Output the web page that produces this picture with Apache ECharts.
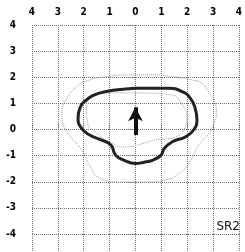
<!DOCTYPE html>
<html>
<head>
<meta charset="utf-8">
<script src="https://cdn.jsdelivr.net/npm/echarts@6/dist/echarts.min.js"></script>
<style>
  html, body { margin: 0; padding: 0; background: #fff; }
  #chart { width: 245px; height: 252px; }
</style>
</head>
<body>
<div id="chart"></div>
<script>
// 刻度
const ticks = [-4, -3, -2, -1, 0, 1, 2, 3, 4]

// 粗实线方向图
const thickCurve = [
  [0, 1.58], [-0.77, 1.51], [-1.40, 1.39], [-1.90, 1.13], [-2.15, 0.81],
  [-2.22, 0.43], [-2.09, 0.05], [-1.77, -0.21], [-1.33, -0.40], [-0.95, -0.59],
  [-0.77, -0.98], [-0.45, -1.17], [0, -1.30], [0.30, -1.26], [0.68, -1.17],
  [0.99, -0.98], [1.12, -0.72], [1.43, -0.47], [1.94, -0.28], [2.25, -0.02],
  [2.38, 0.36], [2.31, 0.81], [2.12, 1.20], [1.81, 1.45], [1.31, 1.58],
  [0.55, 1.58], [0, 1.58]
]

// 内侧虚线
const innerCurve = [
  [0.23, 1.40], [-1.02, 1.40], [-1.66, 1.32], [-1.89, 0.75], [-1.85, 0.25],
  [-1.51, -0.13], [-1.02, -0.48], [-0.38, -0.67], [0.23, -0.55], [0.87, -0.38],
  [1.32, -0.35], [1.70, -0.20], [1.92, 0.10], [2.00, 0.48], [1.81, 0.94],
  [1.43, 1.32], [0.23, 1.40]
]

// 外侧虚线
const outerCurve = [
  [0.11, 2.09], [-0.39, 2.09], [-1.14, 2.02], [-1.77, 1.90], [-2.28, 1.64],
  [-2.72, 1.07], [-2.84, 0.62], [-2.76, 0.10], [-2.50, -0.30], [-2.10, -0.75],
  [-1.80, -1.30], [-1.40, -1.85], [-0.57, -2.01], [0.42, -2.01], [1.17, -1.93],
  [1.70, -1.67], [2.08, -1.28], [2.45, -0.60], [2.82, -0.18], [3.01, 0.17],
  [3.13, 0.62], [3.07, 1.07], [2.82, 1.45], [2.57, 1.77], [2.19, 1.90],
  [1.43, 2.02], [0.68, 2.09], [0.11, 2.09]
]

// 箭头起止
const arrowFrom = [0, -0.21]
const arrowTo = [0, 0.85]

const chart = echarts.init(document.getElementById('chart'))

const gridLine = {
  show: true,
  lineStyle: { color: '#6f6f6f', type: 'dotted', width: 1 }
}
const tickLine = { color: '#6f6f6f', type: 'dotted', width: 1 }
const labelFont = {
  color: '#000',
  fontFamily: 'DejaVu Sans Condensed',
  fontWeight: 'bold',
  fontSize: 10
}

const option = {
  animation: false,
  title: {
    text: 'SR2',
    right: 0,
    bottom: 14,
    textStyle: { fontFamily: 'DejaVu Sans', fontWeight: 'normal', fontSize: 12, color: '#111' }
  },
  grid: { left: 32, right: 1, top: 25, bottom: 18 },
  xAxis: [
    {
      type: 'value',
      position: 'top',
      min: -4,
      max: 4,
      interval: 1,
      axisLine: { show: false },
      axisTick: { show: true, length: 5, lineStyle: tickLine },
      splitLine: gridLine,
      axisLabel: Object.assign({
        margin: 8,
        formatter: function (v) { return String(Math.abs(v)) }
      }, labelFont)
    },
    {
      type: 'value',
      position: 'bottom',
      min: -4,
      max: 4,
      interval: 1,
      axisLine: { show: false },
      axisTick: { show: true, length: 18, lineStyle: tickLine },
      splitLine: { show: false },
      axisLabel: { show: false }
    }
  ],
  yAxis: {
    type: 'value',
    min: -4,
    max: 4,
    interval: 1,
    axisLine: { show: false },
    axisTick: { show: true, length: 9, lineStyle: tickLine },
    splitLine: gridLine,
    axisLabel: Object.assign({
      margin: 16,
      padding: [10, 0, 0, 0]
    }, labelFont)
  },
  series: [
    {
      name: 'outer',
      type: 'line',
      data: outerCurve,
      smooth: true,
      symbol: 'none',
      lineStyle: { color: '#9a9a9a', width: 1, type: 'dotted' }
    },
    {
      name: 'inner',
      type: 'line',
      data: innerCurve,
      smooth: true,
      symbol: 'none',
      lineStyle: { color: '#9a9a9a', width: 1, type: 'dotted' }
    },
    {
      name: 'pattern',
      type: 'line',
      data: thickCurve,
      smooth: true,
      symbol: 'none',
      lineStyle: { color: '#222', width: 3 },
      markLine: {
        silent: true,
        symbol: ['none', 'arrow'],
        symbolSize: [11, 14],
        label: { show: false },
        lineStyle: { color: '#111', width: 4, type: 'solid' },
        data: [[{ coord: arrowFrom }, { coord: arrowTo }]]
      }
    }
  ]
}
chart.setOption(option)
</script>
</body>
</html>
